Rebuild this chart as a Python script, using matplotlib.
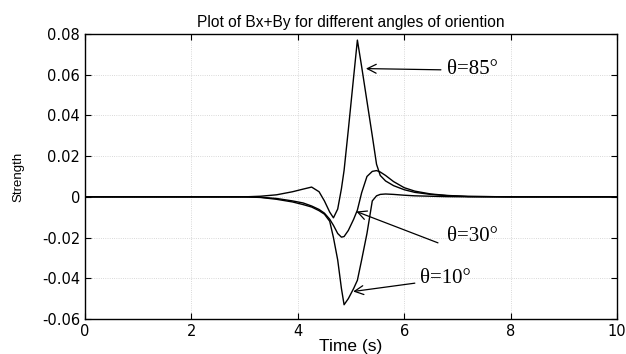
import matplotlib.pyplot as plt

# ---------------- Datos ----------------
t = [0, 1, 2, 3, 3.3, 3.6, 3.9, 4.1, 4.26, 4.4, 4.5, 4.6, 4.67, 4.75, 4.82,
     4.87, 4.95, 5.05, 5.12, 5.2, 5.3, 5.4, 5.48, 5.55, 5.65, 5.8, 6.0, 6.2,
     6.5, 6.8, 7.2, 8, 10]

b85 = [0, 0, 0, 0, 0.0003, 0.001, 0.0025, 0.0038, 0.0048, 0.0025, -0.002,
       -0.0075, -0.0103, -0.006, 0.004, 0.013, 0.033, 0.059, 0.077, 0.064,
       0.047, 0.030, 0.016, 0.0105, 0.0078, 0.0055, 0.0035, 0.0022, 0.0012,
       0.0006, 0.0002, 0, 0]

b30 = [0, 0, 0, 0, -0.0002, -0.0008, -0.002, -0.003, -0.0045, -0.0062, -0.008,
       -0.011, -0.014, -0.018, -0.0198, -0.0195, -0.0165, -0.011, -0.0065,
       0.002, 0.010, 0.0125, 0.0129, 0.0122, 0.0105, 0.0075, 0.0045, 0.0028,
       0.0014, 0.0007, 0.0002, 0, 0]

b10 = [0, 0, 0, 0, -0.0003, -0.0012, -0.0025, -0.0038, -0.005, -0.0068,
       -0.0085, -0.012, -0.02, -0.031, -0.045, -0.053, -0.050, -0.045, -0.041,
       -0.031, -0.018, -0.002, 0.0005, 0.0012, 0.0014, 0.0012, 0.0008, 0.0005,
       0.0003, 0.0001, 0, 0, 0]

xticks = [0, 2, 4, 6, 8, 10]
yticks = [-0.06, -0.04, -0.02, 0, 0.02, 0.04, 0.06, 0.08]
ytick_labels = ["-0.06", "-0.04", "-0.02", "0", "0.02", "0.04", "0.06", "0.08"]

# ---------------- Figura ----------------
sans = ["Liberation Sans", "DejaVu Sans"]
fig = plt.figure(figsize=(6.26, 3.54), dpi=100)
ax = fig.add_axes([0.1358, 0.0989, 0.8498, 0.8051])

for y in (b85, b30, b10):
    ax.plot(t, y, color="black", linewidth=1.0)

ax.set_xlim(0, 10)
ax.set_ylim(-0.06, 0.08)
ax.set_xticks(xticks)
ax.set_yticks(yticks)
ax.set_yticklabels(ytick_labels)
ax.tick_params(direction="in", top=True, right=True, length=4,
               labelsize=10.5, width=0.8)
ax.grid(True, linestyle=":", color="0.8", linewidth=0.6)
for s in ax.spines.values():
    s.set_linewidth(1.0)

ax.set_title("Plot of Bx+By for different angles of oriention",
             fontsize=11.2, family=sans, pad=5)
ax.set_xlabel("Time (s)", fontsize=12.5, family=sans, labelpad=0)
ax.set_ylabel("Strength", fontsize=9.5, family=sans)
ax.yaxis.set_label_coords(-0.113, 0.5)

# ---------------- Anotaciones ----------------
serif = ["Liberation Serif", "DejaVu Serif"]
arrow = dict(arrowstyle="->", color="black", linewidth=0.9,
             mutation_scale=16, shrinkA=0, shrinkB=0)

ax.annotate("", xy=(5.28, 0.063), xytext=(6.69, 0.0624), arrowprops=arrow)
ax.text(6.80, 0.0624, "θ=85°", fontsize=15, family=serif, va="center")

ax.annotate("", xy=(5.1, -0.0072), xytext=(6.635, -0.0226), arrowprops=arrow)
ax.text(6.80, -0.0195, "θ=30°", fontsize=15, family=serif, va="center")

ax.annotate("", xy=(5.04, -0.0465), xytext=(6.2, -0.0424), arrowprops=arrow)
ax.text(6.30, -0.040, "θ=10°", fontsize=15, family=serif, va="center")

fig.savefig("out.png", dpi=100)
